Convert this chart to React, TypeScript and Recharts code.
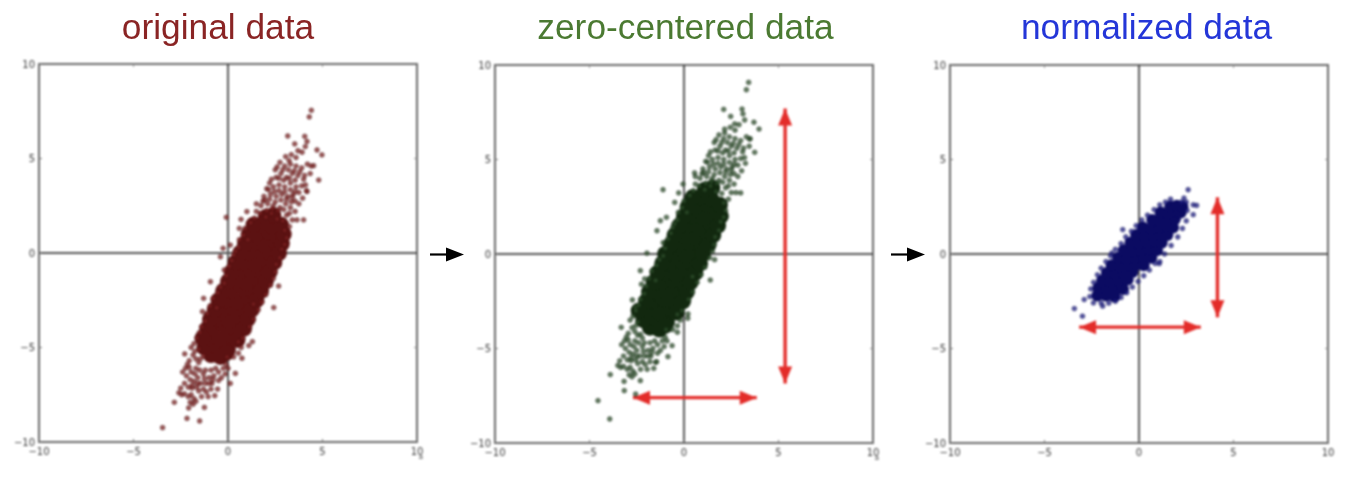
import { ScatterChart, Scatter, XAxis, YAxis, ReferenceLine, ReferenceArea } from "recharts";

type Pt = number[];

const tickValues = [-10, -5, 0, 5, 10];

const titles = ["original data", "zero-centered data", "normalized data"];

// values, core = the solid middle of each cloud
const originalCore: Pt[] = [
  [-0.9,-5.4],[-0.4,-5.5],[-1.25,-5],[-0.6,-4.9],[0,-5.1],
  [-1.05,-4.5],[-0.4,-4.6],[0.2,-4.4],[-0.8,-4],[-0.15,-3.9],[0.45,-4.1],[-0.55,-3.5],[0.05,-3.6],[0.65,-3.4],
  [-0.3,-3],[0.3,-2.9],[0.9,-3.1],[-0.1,-2.5],[0.5,-2.6],[1.1,-2.4],[0.15,-2],[0.8,-1.9],[1.4,-2.1],
  [0.4,-1.5],[1,-1.6],[1.6,-1.4],[0.6,-1],[1.2,-0.9],[1.85,-1.1],[0.8,-0.5],[1.45,-0.6],[2.1,-0.4],
  [1.05,0],[1.7,0.1],[2.3,-0.1],[1.3,0.5],[1.95,0.4],[2.5,0.6],[1.5,1],[2.15,1.1],[2.6,0.9],[1.75,1.5],[2.35,1.4],
  [-1.1,-4],[0.85,-4],[-0.95,-3.5],[1.05,-3.5],[-0.7,-3],[1.25,-3],[-0.5,-2.5],[1.5,-2.5],[-0.25,-2],[1.75,-2],
  [0,-1.5],[2,-1.5],[0.2,-1],[2.2,-1],[0.4,-0.5],[2.45,-0.5],[0.65,0],[2.7,0],[0.9,0.5],[2.85,0.5],[1.1,1],[2.95,1],
  [1.35,1.5],[2.8,1.5],[2,1.9],[2.4,2],[-0.1,-5.3],[-1.35,-4.5],[0.5,-4.6],
];

const originalFringe: Pt[] = [
  [4.41,7.55],[4.3,7.2],[3.16,6.19],[4.06,6.17],[4.18,5.9],[3.53,5.77],[4.09,5.63],[3.7,5.41],[3.92,5.33],[4.71,5.45],
  [4.97,5.19],[4.8,3.86],[4.53,4.62],[3.23,4.89],[-0.09,1.89],[0.69,1.78],[0.6,1.3],[1,2.19],[-0.26,0.25],[0.12,0.42],
  [-0.4,-0.2],[-0.93,-1.52],[-1.29,-2.4],[2.42,-2.89],[2.68,-1.75],[-3.46,-9.24],[-2.84,-7.9],[-2.17,-8.75],[-1.5,-8.89],
  [-2.08,-8.2],[-1.25,-8.17],[-2.29,-5.34],[1.29,-4.69],[0.39,-6.37],[0.12,-6.9],[0.74,-5.57],[4,1.75],[4.18,3.25],
  [-2.6,-7.4],[-2.45,-7.5],[-2.3,-7.45],[-2.1,-7.6],[-1.95,-7.5],[-1.8,-7.7],[-1.55,-7.3],[-1.4,-7.6],[-1.3,-7.2],[-1.05,-7.6],
  [-2,-7.9],[-1.85,-8],[-1.7,-7.85],[-2.3,-6.9],[-2.2,-6.5],[-2.25,-6.1],[-2.05,-5.7],[-1.95,-6.3],[-1.8,-6.8],[-1.7,-6.1],
  [-1.6,-6.6],[-1.45,-6.9],[-1.3,-6.4],[-1.2,-6.9],[-1,-6.6],[-0.85,-6.9],[-0.75,-6.5],[-0.55,-7.2],[-0.5,-6.3],[-0.35,-6.6],
  [-0.25,-6.1],[-0.1,-5.9],[0,-6.1],[-1.85,-5.4],[-1.7,-5.6],[-1.55,-5.1],[-0.05,-5.5],[0.3,-5.5],[0.55,-5.3],[0.7,-5],
  [1.1,-4.9],[0.8,-4.5],[0.55,-4.7],[-1.65,-4.5],[-1.5,-4.2],[-1.4,-3.9],[-1.2,-3.6],[-1.35,-3.1],[-1.1,-3.2],[-0.95,-2.8],
  [-0.8,-2.4],[-0.6,-2.9],[-0.55,-2.1],[-0.4,-1.8],[-0.2,-1.6],[-0.1,-1.2],[-0.2,-0.9],[0.05,-0.7],[0.2,-0.4],[0.3,-0.1],
  [0.4,0.1],[0.55,0.3],[0.6,0.7],[0.8,0.95],[0.9,1.3],[1.05,0.7],[1.2,1.6],[1.4,1.85],[1.5,2.2],[1.5,2.6],[1.75,2.5],[1.9,3],
  [1.35,-3.5],[1.15,-3.9],[1.6,-3],[1.8,-2.6],[1.35,-2.7],[2,-2.2],[2.25,-1.7],[2.4,-1.35],[2.5,-1],[2.55,-0.6],[2.75,-0.25],
  [2.85,0.2],[3,0.45],[3.1,0.8],[3,1.2],[3.25,1.4],[3.4,1.75],[3.65,1.75],[3.55,2.2],[3.75,2.6],[3.95,2.9],[4.15,3.3],
  [2,1.9],[2.3,2.1],[2.6,1.8],[2.9,1.7],[3.1,2],[2.1,2.6],[2.4,2.5],[2.75,2.4],[3.05,2.6],[3.3,2.4],[2.25,3.1],[2.55,3],
  [2.85,3.1],[3.15,3],[3.45,3.1],[3.75,3.2],[2.4,3.5],[2.7,3.6],[3,3.5],[3.3,3.7],[3.6,3.5],[2.55,4],[2.8,4.2],[3.1,4],
  [3.4,4.2],[3.7,4.1],[4,3.9],[3,4.6],[3.3,4.7],[3.6,4.6],[3.9,4.5],[4.2,4.7],[4.4,4.6],
  [2.2,3.7],[2.5,4.4],[2.75,4.8],[3.05,5.1],[3.35,5.2],[3.6,5.05],[4.05,4.1],[4.35,4.2],[4.1,3.6],[3.9,3.55],[2.05,3.4],
  [1.85,2.75],[3.55,2.75],[3.4,2.95],[-2.1,-7.1],[-1.9,-7.15],[-1.65,-7.1],[-1.15,-7.35],[-0.9,-7.2],[-0.7,-7.55],
  [-2.4,-6.3],[-2.15,-5.9],[-2.5,-7.15],[-0.15,-6.4],[-1.95,-5],[-1.8,-4.8],
  [1.7,2.1],[2.05,2.25],[2.35,2.35],[2.65,2.25],[2.95,2.3],[3.25,2.1],[1.95,2.8],[2.2,2.85],[2.5,2.7],[2.8,2.8],[3.1,2.85],
  [3.35,2.7],[2.15,3.35],[2.45,3.25],[2.7,3.3],[3,3.25],[3.3,3.35],[3.55,3.25],[2.3,3.9],[2.7,3.95],[2.95,3.85],[3.25,3.95],
  [3.55,3.85],[2.6,4.55],[2.9,4.4],[3.2,4.4],[3.5,4.35],[3.8,4.3],[-2,-6.7],[-1.75,-6.4],[-1.5,-6.2],[-1.2,-6.2],[-0.9,-6.2],
  [-0.65,-6.1],[-1.9,-7],[-1.6,-6.9],[-1.25,-6.65],[-1,-6.9],[-0.8,-6.7],[-0.5,-6.75],[-2.05,-6.05],[-1.55,-5.8],
  [-1.45,-5.6],[-1.75,-5.2],[-1.3,-5.45],
];

const centeredCore: Pt[] = [
  [-1.8,-3.9],[-1.3,-4],[-2.15,-3.5],[-1.5,-3.4],[-0.9,-3.6],
  [-1.95,-3],[-1.3,-3.1],[-0.7,-2.9],[-1.7,-2.5],[-1.05,-2.4],[-0.45,-2.6],[-1.45,-2],[-0.85,-2.1],[-0.25,-1.9],
  [-1.2,-1.5],[-0.6,-1.4],[0,-1.6],[-1,-1],[-0.4,-1.1],[0.2,-0.9],[-0.75,-0.5],[-0.1,-0.4],[0.5,-0.6],
  [-0.5,0],[0.1,-0.1],[0.7,0.1],[-0.3,0.5],[0.3,0.6],[0.95,0.4],[-0.1,1],[0.55,0.9],[1.2,1.1],
  [0.15,1.5],[0.8,1.4],[1.4,1.6],[0.4,2],[1.05,1.9],[1.6,2.1],[0.6,2.5],[1.25,2.6],[1.7,2.4],[0.85,3],[1.45,2.9],
  [-2,-2.5],[-0.05,-2.5],[-1.85,-2],[0.15,-2],[-1.6,-1.5],[0.35,-1.5],[-1.4,-1],[0.6,-1],[-1.15,-0.5],[0.85,-0.5],
  [-1,0],[1,0],[-0.7,0.5],[1.3,0.5],[-0.5,1],[1.55,1],[-0.25,1.5],[1.8,1.5],[0,2],[1.95,2],[0.2,2.5],[1.9,2.6],[0.45,3],
  [1.1,3.4],[1.5,3.5],[-1,-3.8],[-2.4,-3],[-0.4,-3.1],
];

const centeredFringe: Pt[] = [
  [3.42,9.08],[3.3,8.69],[2.1,7.65],[3.07,7.67],[2.47,7.28],[3.12,7.41],[3.21,7.09],[2.68,6.88],[2.91,6.84],[3.7,6.97],
  [3.97,6.61],[3.74,5.38],[3.47,6.08],[2.15,6.4],[-1.11,3.4],[-0.05,3.7],[-0.28,3.23],[-0.49,2.73],[3,3.23],[0.56,4.29],
  [-0.93,1.94],[-1.25,1.76],[-1.43,1.23],[-1.96,0.04],[1.62,-0.3],[1.39,-1.38],[-2.31,-0.88],[-2.08,-1.32],[-2.73,-2.43],
  [-2.57,-2.82],[-3.32,-3.88],[-3.9,-6.38],[-4.55,-7.76],[-3.93,-8.73],[-3.16,-7.23],[-3.17,-6.74],[-2.31,-6.7],[-2.56,-7.41],
  [-0.85,-5.43],[-0.63,-4.85],[-0.35,-4.14],[0.21,-3.17],[-1.5,-5.73],
  [-3.5,-5.9],[-3.35,-6],[-3.2,-5.95],[-3,-6.1],[-2.85,-6],[-2.7,-6.2],[-2.45,-5.8],[-2.3,-6.1],[-2.2,-5.7],[-1.95,-6.1],
  [-2.9,-6.4],[-2.75,-6.5],[-2.6,-6.35],[-3.2,-5.4],[-3.1,-5],[-3.15,-4.6],[-2.95,-4.2],[-2.85,-4.8],[-2.7,-5.3],[-2.6,-4.6],
  [-2.5,-5.1],[-2.35,-5.4],[-2.2,-4.9],[-2.1,-5.4],[-1.9,-5.1],[-1.75,-5.4],[-1.65,-5],[-1.45,-5.7],[-1.4,-4.8],[-1.25,-5.1],
  [-1.15,-4.6],[-1,-4.4],[-0.9,-4.6],[-2.75,-3.9],[-2.6,-4.1],[-2.45,-3.6],[-0.95,-4],[-0.6,-4],[-0.35,-3.8],[-0.2,-3.5],
  [0.2,-3.4],[-0.1,-3],[-0.35,-3.2],[-2.55,-3],[-2.4,-2.7],[-2.3,-2.4],[-2.1,-2.1],[-2.25,-1.6],[-2,-1.7],[-1.85,-1.3],
  [-1.7,-0.9],[-1.5,-1.4],[-1.45,-0.6],[-1.3,-0.3],[-1.1,-0.1],[-1,0.3],[-1.1,0.6],[-0.85,0.8],[-0.7,1.1],[-0.6,1.4],
  [-0.5,1.6],[-0.35,1.8],[-0.3,2.2],[-0.1,2.45],[0,2.8],[0.15,2.2],[0.3,3.1],[0.5,3.35],[0.6,3.7],[0.6,4.1],[0.85,4],[1,4.5],
  [0.45,-2],[0.25,-2.4],[0.7,-1.5],[0.9,-1.1],[0.45,-1.2],[1.1,-0.7],[1.35,-0.2],[1.5,0.15],[1.6,0.5],[1.65,0.9],[1.85,1.25],
  [1.95,1.7],[2.1,1.95],[2.2,2.3],[2.1,2.7],[2.35,2.9],[2.5,3.25],[2.75,3.25],[2.65,3.7],[2.85,4.1],[3.05,4.4],[3.25,4.8],
  [1.1,3.4],[1.4,3.6],[1.7,3.3],[2,3.2],[2.2,3.5],[1.2,4.1],[1.5,4],[1.85,3.9],[2.15,4.1],[2.4,3.9],[1.35,4.6],[1.65,4.5],
  [1.95,4.6],[2.25,4.5],[2.55,4.6],[2.85,4.7],[1.5,5],[1.8,5.1],[2.1,5],[2.4,5.2],[2.7,5],[1.65,5.5],[1.9,5.7],[2.2,5.5],
  [2.5,5.7],[2.8,5.6],[3.1,5.4],[2.1,6.1],[2.4,6.2],[2.7,6.1],[3,6],[3.3,6.2],[3.5,6.1],
  [1.3,5.2],[1.6,5.9],[1.85,6.3],[2.15,6.6],[2.45,6.7],[2.7,6.55],[3.15,5.6],[3.45,5.7],[3.2,5.1],[3,5.05],[1.15,4.9],
  [0.95,4.25],[2.65,4.25],[2.5,4.45],[-3,-5.6],[-2.8,-5.65],[-2.55,-5.6],[-2.05,-5.85],[-1.8,-5.7],[-1.6,-6.05],
  [-3.3,-4.8],[-3.05,-4.4],[-3.4,-5.65],[-1.05,-4.9],[-2.85,-3.5],[-2.7,-3.3],
  [0.8,3.6],[1.15,3.75],[1.45,3.85],[1.75,3.75],[2.05,3.8],[2.35,3.6],[1.05,4.3],[1.3,4.35],[1.6,4.2],[1.9,4.3],[2.2,4.35],
  [2.45,4.2],[1.25,4.85],[1.55,4.75],[1.8,4.8],[2.1,4.75],[2.4,4.85],[2.65,4.75],[1.4,5.4],[1.8,5.45],[2.05,5.35],[2.35,5.45],
  [2.65,5.35],[1.7,6.05],[2,5.9],[2.3,5.9],[2.6,5.85],[2.9,5.8],[-2.9,-5.2],[-2.65,-4.9],[-2.4,-4.7],[-2.1,-4.7],[-1.8,-4.7],
  [-1.55,-4.6],[-2.8,-5.5],[-2.5,-5.4],[-2.15,-5.15],[-1.9,-5.4],[-1.7,-5.2],[-1.4,-5.25],[-2.95,-4.55],[-2.45,-4.3],
  [-2.3,-4.25],[-2.55,-3.8],[-2.2,-4.45],
];

const normalizedCore: Pt[] = [
  [-2.2,-2.2],[-1.75,-2.2],[-1.3,-2.25],[-2.15,-1.8],[-1.7,-1.85],[-1.25,-1.8],[-0.85,-1.85],
  [-1.95,-1.4],[-1.5,-1.45],[-1.05,-1.4],[-0.6,-1.35],[-1.7,-1],[-1.25,-1.05],[-0.8,-1],[-0.35,-0.95],
  [-1.45,-0.6],[-1,-0.65],[-0.55,-0.6],[-0.1,-0.55],[0.25,-0.6],[-1.1,-0.2],[-0.65,-0.25],[-0.2,-0.2],[0.25,-0.15],[0.65,-0.2],
  [-0.8,0.2],[-0.35,0.15],[0.1,0.2],[0.55,0.25],[0.95,0.2],[-0.45,0.6],[0,0.55],[0.45,0.6],[0.9,0.65],[1.2,0.6],
  [-0.15,1],[0.3,0.95],[0.75,1],[1.2,1.05],[1.5,1],[0.2,1.4],[0.65,1.35],[1.1,1.4],[1.5,1.45],[1.8,1.4],
  [0.7,1.8],[1.1,1.75],[1.5,1.8],[1.9,1.85],[1.15,2.2],[1.55,2.15],[1.95,2.25],[2.2,2.2],[1.65,2.5],[2,2.55],[2.3,2.5],
];

const normalizedFringe: Pt[] = [
  [2.6,3.4],[-3.42,-2.89],[-2.99,-3.29],[-2.9,-2.41],[-0.86,1.29],[2.87,2.6],[3.05,2.57],[1.67,2.9],[2.38,2.96],[2.87,2.08],
  [-1.44,0.05],[1.07,-0.51],[-1.92,-2.76],[-2.41,-2.59],[2.5,2.75],[2.25,2.75],[2.55,2.3],[2.5,1.75],[2.3,1.35],[2.05,0.9],
  [1.7,0.45],[1.35,0],[1.1,-0.4],[0.85,-0.5],[0.55,-0.85],[0.25,-1.15],[-0.05,-1.45],[-0.35,-1.75],[-0.65,-2.05],[-0.95,-2.3],
  [-1.25,-2.5],[-1.6,-2.6],[-2,-2.6],[-2.6,-2.25],[-2.55,-1.85],[-2.4,-1.5],[-2.2,-1.1],[-2,-0.75],[-1.75,-0.4],[-1.5,-0.1],
  [-1.25,0.25],[-0.95,0.55],[-0.7,0.9],[-0.4,1.2],[-0.15,1.5],[0.15,1.8],[0.45,2.05],[0.8,2.35],[1.1,2.6],[1.4,2.75],
];

const verticalArrows = [
  { panel: 1, from: [5.35, -6.85], to: [5.35, 7.7] },
  { panel: 2, from: [4.15, -3.35], to: [4.15, 3.0] },
];
const horizontalArrows = [
  { panel: 1, from: [-2.7, -7.6], to: [3.85, -7.6] },
  { panel: 2, from: [-3.17, -3.87], to: [3.27, -3.87] },
];

const toRows = (pts: Pt[]) => pts.map(([x, y]) => ({ x, y }));

const RED = "#e32c29";

// double headed arrow between the two ends of a reference segment
const doubleArrow = (p: any) => {
  const { x1, y1, x2, y2 } = p;
  const len = Math.hypot(x2 - x1, y2 - y1) || 1;
  const ux = (x2 - x1) / len;
  const uy = (y2 - y1) / len;
  const head = (tx: number, ty: number, d: number) => {
    const bx = tx - d * ux * 17;
    const by = ty - d * uy * 17;
    return `${tx},${ty} ${bx - uy * 7},${by + ux * 7} ${bx + uy * 7},${by - ux * 7}`;
  };
  return (
    <g>
      <line x1={x1} y1={y1} x2={x2} y2={y2} stroke={RED} strokeWidth={3.4} />
      <polygon points={head(x2, y2, 1)} fill={RED} />
      <polygon points={head(x1, y1, -1)} fill={RED} />
    </g>
  );
};

const XTick = (smudge: boolean) => (p: any) => {
  const v = p.payload.value;
  return (
    <g>
      <line x1={p.x} y1={p.y} x2={p.x} y2={p.y - 3} stroke="#777" />
      <text x={p.x} y={p.y + 13} textAnchor="middle" fontFamily="DejaVu Sans" fontSize={10} fill="#3a3a3a">
        {v < 0 ? `\u2212${-v}` : v}
      </text>
      {smudge && v === 10 ? (
        <text x={p.x + 4} y={p.y + 17} textAnchor="middle" fontFamily="DejaVu Sans" fontSize={7} fill="#444">
          a
        </text>
      ) : null}
    </g>
  );
};

const YTick = (p: any) => {
  const v = p.payload.value;
  return (
    <g>
      <line x1={p.x} y1={p.y} x2={p.x + 3} y2={p.y} stroke="#777" />
      <text x={p.x - 4} y={p.y + 3.5} textAnchor="end" fontFamily="DejaVu Sans" fontSize={10} fill="#3a3a3a">
        {v < 0 ? `\u2212${-v}` : v}
      </text>
    </g>
  );
};

type PanelProps = {
  index: number;
  left: number;
  top: number;
  core: Pt[];
  fringe: Pt[];
  coreColor: string;
  coreR: number;
  fill: string;
  edge: string;
  smudge: boolean;
};

function Panel({ index, left, top, core, fringe, coreColor, coreR, fill, edge, smudge }: PanelProps) {
  const dot = (p: any) => (
    <circle cx={p.cx} cy={p.cy} r={2.4} fill={fill} fillOpacity={0.75} stroke={edge} strokeOpacity={0.7} strokeWidth={0.6} />
  );
  const blob = (p: any) => <circle cx={p.cx} cy={p.cy} r={coreR} fill={coreColor} />;
  return (
    <div style={{ position: "absolute", left: left - 34, top: top - 14, filter: "blur(0.8px)" }}>
      <ScatterChart width={428} height={416} margin={{ top: 14, right: 16, bottom: 0, left: 0 }}>
        <XAxis
          type="number"
          dataKey="x"
          domain={[-10, 10]}
          ticks={tickValues}
          interval={0}
          height={24}
          tickSize={0}
          tickMargin={0}
          axisLine={false}
          tick={XTick(smudge)}
        />
        <YAxis
          type="number"
          dataKey="y"
          domain={[-10, 10]}
          ticks={tickValues}
          interval={0}
          width={34}
          tickSize={0}
          tickMargin={0}
          axisLine={false}
          tick={YTick}
        />
        <ReferenceArea x1={-10} x2={10} y1={-10} y2={10} fill="none" stroke="#6a6a6a" strokeWidth={2} />
        {tickValues.slice(1, 4).map((t) => (
          <ReferenceLine key={`t${t}`} segment={[{ x: t, y: 10 }, { x: t, y: 9.85 }]} stroke="#888" />
        ))}
        {tickValues.slice(1, 4).map((t) => (
          <ReferenceLine key={`r${t}`} segment={[{ x: 10, y: t }, { x: 9.85, y: t }]} stroke="#888" />
        ))}
        <ReferenceLine x={0} stroke="#333" strokeWidth={1.6} />
        <ReferenceLine y={0} stroke="#555" strokeWidth={2} />
        <Scatter data={toRows(core)} shape={blob} isAnimationActive={false} />
        <Scatter data={toRows(fringe)} shape={dot} isAnimationActive={false} />
        {verticalArrows
          .filter((a) => a.panel === index)
          .map((a) => (
            <ReferenceLine
              key="v"
              segment={[{ x: a.from[0], y: a.from[1] }, { x: a.to[0], y: a.to[1] }]}
              shape={doubleArrow}
            />
          ))}
        {horizontalArrows
          .filter((a) => a.panel === index)
          .map((a) => (
            <ReferenceLine
              key="h"
              segment={[{ x: a.from[0], y: a.from[1] }, { x: a.to[0], y: a.to[1] }]}
              shape={doubleArrow}
            />
          ))}
      </ScatterChart>
    </div>
  );
}

const titleStyle = (color: string, center: number): React.CSSProperties => ({
  position: "absolute",
  left: center - 250,
  width: 500,
  top: 7,
  textAlign: "center",
  fontFamily: "Liberation Sans",
  fontSize: 35.3,
  lineHeight: "40px",
  color,
  filter: "blur(0.35px)",
});

export default function App() {
  return (
    <div
      style={{
        position: "absolute",
        left: 0,
        top: 0,
        width: 1354,
        height: 486,
        background: "#fff",
        overflow: "hidden",
      }}
    >
      <div style={titleStyle("#8a2424", 218)}>{titles[0]}</div>
      <div style={titleStyle("#4b7a32", 685.5)}>{titles[1]}</div>
      <div style={titleStyle("#2436d8", 1146.5)}>{titles[2]}</div>

      <Panel index={0} left={38.7} top={64.3} core={originalCore} fringe={originalFringe} coreColor="#5c1212" coreR={8} fill="#7c2222" edge="#3a0808" smudge />
      <Panel index={1} left={495} top={65} core={centeredCore} fringe={centeredFringe} coreColor="#12280f" coreR={8} fill="#2f4f2c" edge="#0c1f0c" smudge />
      <Panel index={2} left={950} top={65} core={normalizedCore} fringe={normalizedFringe} coreColor="#0b0b62" coreR={6} fill="#1c1c80" edge="#0a0a50" smudge={false} />

      <svg width={1354} height={486} style={{ position: "absolute", left: 0, top: 0, pointerEvents: "none", filter: "blur(0.5px)" }}>
        <line x1={430} y1={254.5} x2={448} y2={254.5} stroke="#000" strokeWidth={2.2} />
        <polygon points="464,254.5 446,247.5 446,261.5" fill="#000" />
        <line x1={891} y1={254.5} x2={909} y2={254.5} stroke="#000" strokeWidth={2.2} />
        <polygon points="925,254.5 907,247.5 907,261.5" fill="#000" />
      </svg>
    </div>
  );
}
